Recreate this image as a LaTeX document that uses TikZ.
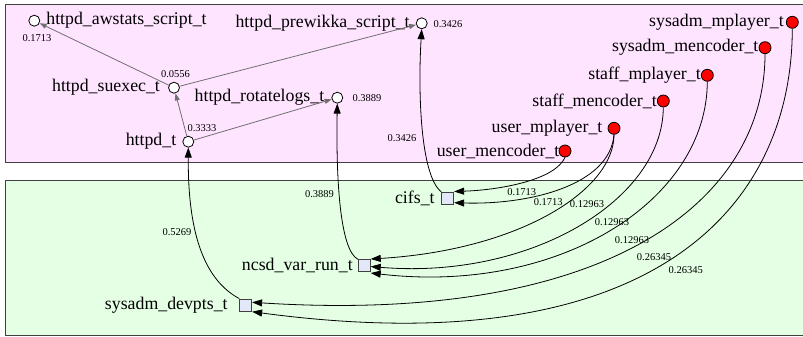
\documentclass[tikz,border=0pt]{standalone}
\usepackage{fontspec}
\setmainfont{Liberation Serif}
\usetikzlibrary{arrows.meta,calc}
\definecolor{clpink}{RGB}{255,228,255}
\definecolor{clgreen}{RGB}{228,255,228}
\definecolor{sqfill}{RGB}{226,232,248}
\definecolor{edgegray}{RGB}{112,112,112}
\definecolor{border}{RGB}{64,64,64}
\begin{document}
\begin{tikzpicture}[x=1pt,y=-1pt,
 wnode/.style={circle,draw=black,fill=white,minimum size=11pt,inner sep=0pt,line width=0.8pt},
 rnode/.style={circle,draw=black,fill=red,minimum size=12pt,inner sep=0pt,line width=0.8pt},
 snode/.style={rectangle,draw=border,fill=sqfill,minimum size=12pt,inner sep=0pt,line width=0.8pt},
 lab/.style={inner sep=0pt,font=\fontsize{17.8}{20}\selectfont},
 num/.style={inner sep=0pt,font=\fontsize{10.5}{12}\selectfont},
 bedge/.style={draw=black,line width=0.8pt,-{Triangle[length=10pt,width=7pt]}},
 gedge/.style={draw=edgegray,line width=0.8pt,-{Triangle[length=7pt,width=5pt]}},
 cluster/.style={draw=border,line width=0.8pt}]
\useasboundingbox (0,0) rectangle (803,337);
% clusters
\draw[cluster,fill=clpink] (5.5,4) rectangle (810,162.5);
\draw[cluster,fill=clgreen] (5.5,180.7) rectangle (810,335.8);
% white nodes
\node[wnode,label={[lab,label distance=6pt]right:httpd\_awstats\_script\_t}] (awst) at (34.3,20.7) {};
\node[wnode,label={[lab,label distance=6pt]left:httpd\_prewikka\_script\_t}] (prew) at (421.7,23.3) {};
\node[wnode,label={[lab,label distance=8pt]left:httpd\_suexec\_t}] (suex) at (174,87.7) {};
\node[wnode,label={[lab,label distance=7pt]left:httpd\_rotatelogs\_t}] (rotl) at (337.3,97.7) {};
\node[wnode,label={[lab,label distance=6pt]left:httpd\_t}] (httpd) at (188.3,141.7) {};
% red nodes
\node[rnode,label={[lab,label distance=2pt]left:sysadm\_mplayer\_t}] (smp) at (792.3,22.3) {};
\node[rnode,label={[lab,label distance=0pt]left:sysadm\_mencoder\_t}] (smc) at (765,47.7) {};
\node[rnode,label={[lab,label distance=0pt]left:staff\_mplayer\_t}] (stmp) at (707.3,75.3) {};
\node[rnode,label={[lab,label distance=0pt]left:staff\_mencoder\_t}] (stmc) at (663.3,101) {};
\node[rnode,label={[lab,label distance=5pt]left:user\_mplayer\_t}] (ump) at (614,128.3) {};
\node[rnode,label={[lab,label distance=-1pt]left:user\_mencoder\_t}] (umc) at (565,151) {};
% square nodes
\node[snode,label={[lab,label distance=6.5pt]left:cifs\_t}] (cifs) at (447.7,198.3) {};
\node[snode,label={[lab,label distance=5pt]left:ncsd\_var\_run\_t}] (ncsd) at (364.3,265.7) {};
\node[snode,label={[lab,label distance=11.5pt]left:sysadm\_devpts\_t}] (devp) at (245.7,305) {};
% gray edges
\draw[gedge] (httpd) -- (suex);
\draw[gedge] (httpd) -- (rotl);
\draw[gedge] (suex) -- (awst);
\draw[gedge] (suex) -- (prew);
% black edges
\draw[bedge] (devp.north west) .. controls (195,275) and (188,210) .. (httpd.south);
\draw[bedge] (ncsd.north west) .. controls (340,250) and (336,180) .. (rotl.south);
\draw[bedge] (cifs.north west) .. controls (420,175) and (418,90) .. (prew.south);
\draw[bedge] (umc.south) .. controls (555,180) and (500,190) .. ([shift={(0,-6.8)}]cifs.east);
\draw[bedge] (ump.south) .. controls (610,185) and (530,205) .. ([shift={(0,4.4)}]cifs.east);
\draw[bedge] (ump.south) .. controls (614,190) and (520,250) .. ([shift={(0,-6.7)}]ncsd.east);
\draw[bedge] (stmc.south) .. controls (663,200) and (530,280) .. ([shift={(0,0.8)}]ncsd.east);
\draw[bedge] (stmp.south) .. controls (707,200) and (560,295) .. ([shift={(0,7.3)}]ncsd.east);
\draw[bedge] (smc.south) .. controls (765,200) and (610,325) .. ([shift={(0,-2.7)}]devp.east);
\draw[bedge] (smp.south) .. controls (792,210) and (650,365) .. ([shift={(0,6.7)}]devp.east);
% numeric labels
\node[num] (n1) at (37,38.5) {0.1713};
\node[num] (n2) at (175.5,74) {0.0556};
\node[num] (n3) at (202,128) {0.3333};
\node[num] (n4) at (448,24) {0.3426};
\node[num] (n5) at (367,98) {0.3889};
\node[num] (n6) at (402,138) {0.3426};
\node[num] (n7) at (319.5,194) {0.3889};
\node[num] (n8) at (177,232) {0.5269};
\node[num] (n9) at (521.7,191.7) {0.1713};
\node[num] (n10) at (548.3,201.7) {0.1713};
\node[num] (n11) at (587,204) {0.12963};
\node[num] (n12) at (612,221.7) {0.12963};
\node[num] (n13) at (632,240) {0.12963};
\node[num] (n14) at (654,256.7) {0.26345};
\node[num] (n15) at (685.7,270) {0.26345};
\end{tikzpicture}
\end{document}
